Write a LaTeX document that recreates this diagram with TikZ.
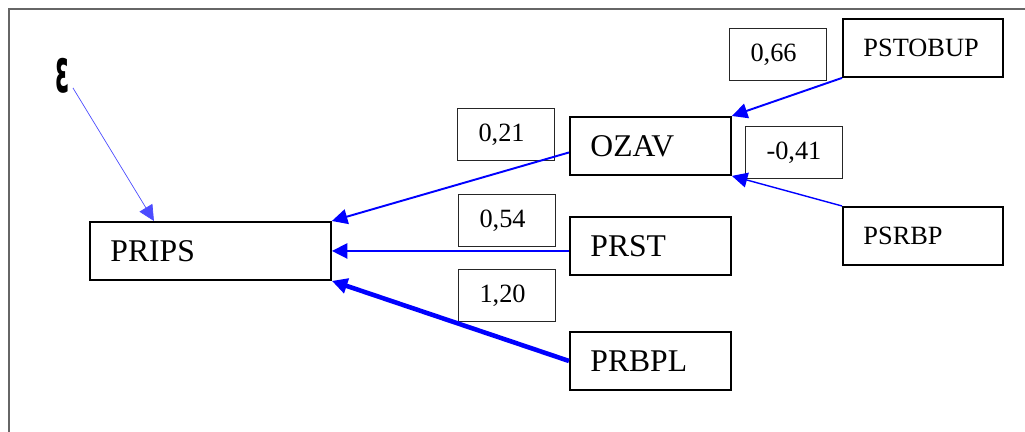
\documentclass[tikz,border=0pt]{standalone}
\usepackage{graphicx}
\usepackage{fontspec}
\setmainfont{Liberation Serif}
\newfontfamily\epsfont{DejaVu Sans}
\usetikzlibrary{arrows.meta}

\begin{document}
\begin{tikzpicture}[
				x=0.02cm, y=-0.02cm,
				varnode/.style={rectangle, draw=black, line width=1.1pt, anchor=north west, inner xsep=0.41cm, inner ysep=0pt, minimum height=1.16cm, align=left, font=\fontsize{18}{18}\selectfont},
				smallvar/.style={varnode, text width=2.38cm, font=\fontsize{15}{15}\selectfont},
				coefnode/.style={rectangle, draw=black!85, line width=0.6pt, anchor=north west, inner xsep=0.42cm, inner ysep=0pt, minimum height=1.04cm, text width=1.1cm, align=left, font=\fontsize{15}{15}\selectfont},
				effect/.style={draw=blue, -{Triangle[length=0.31cm, width=0.3cm]}}
			]

			\useasboundingbox (0,0) rectangle (1025,432);
			\draw[black!60, line width=0.8pt] (9,432) -- (9,9) -- (1025,9);

			\node[inner sep=0pt] (eps) at (62.5,76) {\scalebox{1}[2.4]{\fontsize{14.5}{14.5}\epsfont\bfseries ε}};

			\node[varnode, text width=4cm] (prips) at (89,221) {PRIPS};
			\node[varnode, text width=2.4cm] (ozav) at (569,116) {OZAV};
			\node[varnode, text width=2.4cm] (prst) at (569,216) {PRST};
			\node[varnode, text width=2.4cm] (prbpl) at (569,331) {PRBPL};
			\node[smallvar] (pstobup) at (842,18) {PSTOBUP};
			\node[smallvar] (psrbp) at (842,206) {PSRBP};

			\node[coefnode] (c021) at (457,108) {0,21};
			\node[coefnode] (c054) at (458,194) {0,54};
			\node[coefnode] (c120) at (458,269) {1,20};
			\node[coefnode] (c066) at (729,28) {0,66};
			\node[coefnode] (c041) at (745,126) {-0,41};

			\draw[effect, draw=blue!70, line width=0.4pt] ([shift={(3,-6)}]eps.south east) -- ([xshift=-1.13cm]prips.north);
			\draw[effect, line width=1.1pt] ([yshift=-0.13cm]ozav.west) -- (prips.north east);
			\draw[effect, line width=1.5pt] (prips.east -| prst.west) -- (prips.east);
			\draw[effect, line width=2.6pt] (prbpl.west) -- (prips.south east);
			\draw[effect, line width=1.1pt] (pstobup.south west) -- (ozav.north east);
			\draw[effect, line width=0.8pt] (psrbp.north west) -- (ozav.south east);

		\end{tikzpicture}
\end{document}
